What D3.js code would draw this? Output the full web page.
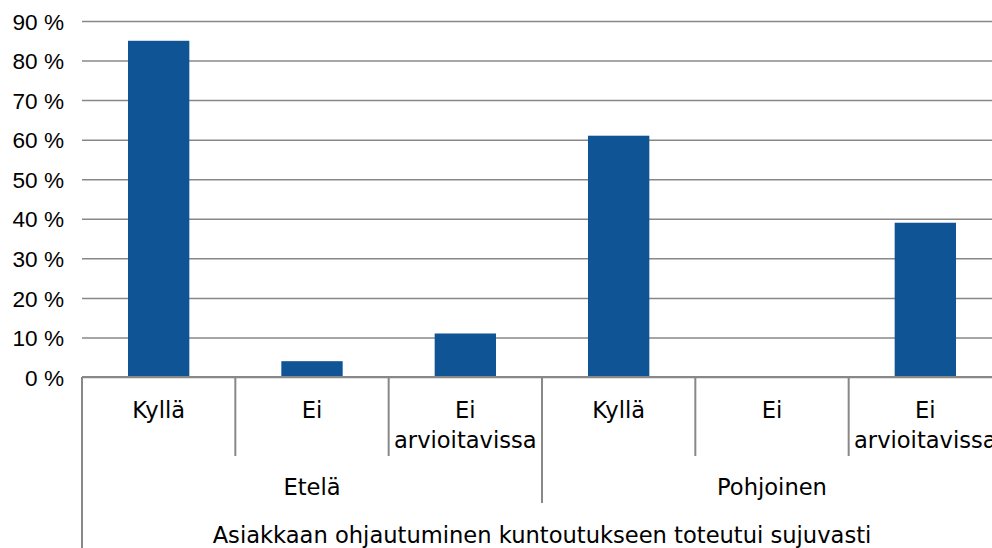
<!DOCTYPE html>
<html>
<head>
<meta charset="utf-8">
<script src="https://cdn.jsdelivr.net/npm/d3@7"></script>
<style>
  body { margin: 0; background: #fff; }
  svg { display: block; font-family: "DejaVu Sans", sans-serif; }
  .axis text { font-size: 22.6px; fill: #000; }
</style>
</head>
<body>
<div id="chart"></div>
<script>
var groups = ['Etelä', 'Pohjoinen'],
    categories = ['Kyllä', 'Ei', 'Ei arvioitavissa'],
    values = [85, 4, 11, 61, 0, 39],
    yTicks = [0, 10, 20, 30, 40, 50, 60, 70, 80, 90],
    title = 'Asiakkaan ohjautuminen kuntoutukseen toteutui sujuvasti'

var width = 992,
    height = 548,
    margins = { top: 21, right: -10, bottom: 171, left: 82 },
    innerWidth = width - margins.left - margins.right,
    innerHeight = height - margins.top - margins.bottom,
    gridColor = '#888',
    barColor = '#0f5495'

// one band per (group, category)
var keys = []
groups.forEach(function (g) {
    categories.forEach(function (c) { keys.push(g + '|' + c) })
})

var x = d3.scaleBand().domain(keys).range([0, innerWidth]),
    groupX = d3.scaleBand().domain(groups).range([0, innerWidth]),
    y = d3.scaleLinear().domain([0, 90]).range([innerHeight, 0])

var svg = d3.select('#chart').append('svg')
    .attr('width', width)
    .attr('height', height)

var graph = svg.append('g')
    .attr('transform', 'translate(' + margins.left + ',' + margins.top + ')')

// gridlines + y labels
var yAxis = graph.append('g').attr('class', 'axis y')
    .call(d3.axisLeft(y).tickValues(yTicks).tickSize(-innerWidth).tickFormat(function (d) { return d + ' %' }))
yAxis.select('.domain').remove()
yAxis.selectAll('line').attr('stroke', gridColor).attr('stroke-width', 1.5)
yAxis.selectAll('text').attr('x', -18).attr('dy', '0.36em')

// bars
graph.selectAll('rect.bar')
    .data(values)
    .enter().append('rect')
    .attr('class', 'bar')
    .attr('x', function (d, i) { return x(keys[i]) + x.bandwidth() * 0.3 })
    .attr('width', x.bandwidth() * 0.4)
    .attr('y', function (d) { return y(d) })
    .attr('height', function (d) { return y(0) - y(d) })
    .attr('fill', barColor)

// category axis
var catAxis = graph.append('g').attr('class', 'axis x')
    .attr('transform', 'translate(0,' + innerHeight + ')')

catAxis.append('line')
    .attr('x1', 0).attr('x2', innerWidth)
    .attr('stroke', gridColor).attr('stroke-width', 2)

// dividers between categories
keys.forEach(function (k, i) {
    var x0 = x(k),
        isGroupEdge = i % categories.length === 0,
        len = i === 0 ? height : (isGroupEdge ? 126 : 79)
    catAxis.append('line')
        .attr('x1', x0).attr('x2', x0)
        .attr('y1', 0).attr('y2', len)
        .attr('stroke', gridColor).attr('stroke-width', 2)
})

// category labels (wrap two-word labels)
keys.forEach(function (k) {
    var words = k.split('|')[1].split(' '),
        cx = x(k) + x.bandwidth() / 2,
        t = catAxis.append('text')
            .attr('text-anchor', 'middle')
            .attr('x', cx)
            .attr('y', 41)
    words.forEach(function (w, j) {
        t.append('tspan').attr('x', cx).attr('dy', j ? 30 : 0).text(w)
    })
})

// group labels
groups.forEach(function (g) {
    catAxis.append('text')
        .attr('text-anchor', 'middle')
        .attr('x', groupX(g) + groupX.bandwidth() / 2)
        .attr('y', 118)
        .text(g)
})

// title row
catAxis.append('text')
    .attr('text-anchor', 'middle')
    .attr('x', innerWidth / 2)
    .attr('y', 166)
    .text(title)
</script>
</body>
</html>
